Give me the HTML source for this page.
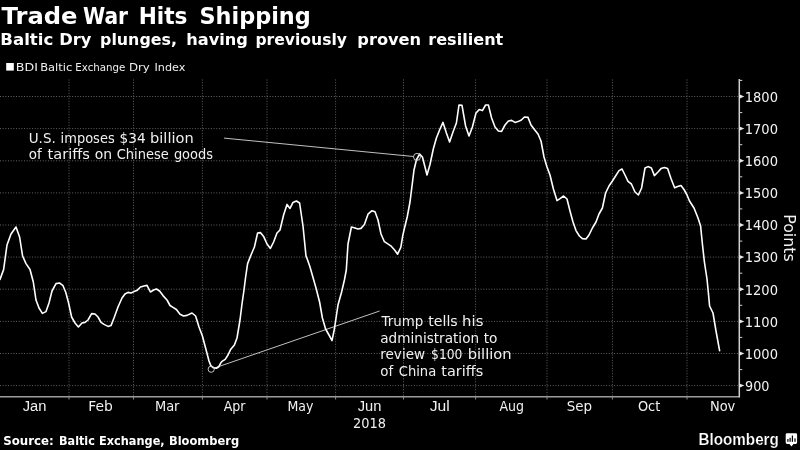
<!DOCTYPE html>
<html lang="en"><head><meta charset="utf-8"><title>Trade War Hits Shipping</title>
<style>html,body{margin:0;padding:0;background:#000;}body{width:800px;height:450px;overflow:hidden;}svg{display:block;will-change:transform;}text{white-space:pre;}</style></head><body>
<svg width="800" height="450" viewBox="0 0 800 450">
<rect width="800" height="450" fill="#000"/>
<g font-family="'DejaVu Sans','Liberation Sans',sans-serif" font-weight="bold" font-size="22.5" fill="#fff"><text x="1.6" y="23.6" textLength="75.91" lengthAdjust="spacingAndGlyphs">Trade</text><text x="82.93" y="23.6" textLength="45.11" lengthAdjust="spacingAndGlyphs">War</text><text x="138.67" y="23.6" textLength="48.84" lengthAdjust="spacingAndGlyphs">Hits</text><text x="199.51" y="23.6" textLength="111.21" lengthAdjust="spacingAndGlyphs">Shipping</text></g>
<g font-family="'DejaVu Sans','Liberation Sans',sans-serif" font-weight="bold" font-size="16.4" fill="#fff"><text transform="translate(0.28 45.4) scale(1 0.935)" textLength="53.03" lengthAdjust="spacingAndGlyphs">Baltic</text><text transform="translate(59.26 45.4) scale(1 0.935)" textLength="32.22" lengthAdjust="spacingAndGlyphs">Dry</text><text transform="translate(100.04 45.4) scale(1 0.935)" textLength="76.94" lengthAdjust="spacingAndGlyphs">plunges,</text><text transform="translate(186.27 45.4) scale(1 0.935)" textLength="61.65" lengthAdjust="spacingAndGlyphs">having</text><text transform="translate(255.41 45.4) scale(1 0.935)" textLength="91.51" lengthAdjust="spacingAndGlyphs">previously</text><text transform="translate(357.26 45.4) scale(1 0.935)" textLength="63.92" lengthAdjust="spacingAndGlyphs">proven</text><text transform="translate(428.27 45.4) scale(1 0.935)" textLength="75.01" lengthAdjust="spacingAndGlyphs">resilient</text></g>
<rect x="6.2" y="63" width="7.6" height="7.6" fill="#fff"/>
<g font-family="'DejaVu Sans','Liberation Sans',sans-serif" font-weight="normal" font-size="11.2" fill="#efefef"><text x="15.87" y="71.4" textLength="22.11" lengthAdjust="spacingAndGlyphs">BDI</text><text x="40.22" y="71.4" textLength="32.09" lengthAdjust="spacingAndGlyphs">Baltic</text><text x="75.33" y="71.4" textLength="50.05" lengthAdjust="spacingAndGlyphs">Exchange</text><text x="128.95" y="71.4" textLength="20.92" lengthAdjust="spacingAndGlyphs">Dry</text><text x="154.5" y="71.4" textLength="30.81" lengthAdjust="spacingAndGlyphs">Index</text></g>
<g stroke="#626262" stroke-width="1" stroke-dasharray="1 1.67" fill="none">
<path d="M0 96.5H739.3"/>
<path d="M0 128.6H739.3"/>
<path d="M0 160.8H739.3"/>
<path d="M0 192.9H739.3"/>
<path d="M0 225.0H739.3"/>
<path d="M0 257.1H739.3"/>
<path d="M0 289.2H739.3"/>
<path d="M0 321.4H739.3"/>
<path d="M0 353.5H739.3"/>
<path d="M0 385.6H739.3"/>
<path d="M69.0 79.5V396.6"/>
<path d="M133.5 79.5V396.6"/>
<path d="M202.4 79.5V396.6"/>
<path d="M267.0 79.5V396.6"/>
<path d="M335.6 79.5V396.6"/>
<path d="M403.5 79.5V396.6"/>
<path d="M475.6 79.5V396.6"/>
<path d="M547.0 79.5V396.6"/>
<path d="M612.4 79.5V396.6"/>
<path d="M687.0 79.5V396.6"/>
</g>
<path d="M0 396.8H740.0" stroke="#9c9c9c" stroke-width="1.5" fill="none"/>
<path d="M739.3 79.0V397.3" stroke="#cfcfcf" stroke-width="1.5" fill="none"/>
<g stroke="#8e8e8e" stroke-width="1" fill="none">
<path d="M69.0 396.6V399.5"/>
<path d="M133.5 396.6V399.5"/>
<path d="M202.4 396.6V399.5"/>
<path d="M267.0 396.6V399.5"/>
<path d="M335.6 396.6V399.5"/>
<path d="M403.5 396.6V399.5"/>
<path d="M475.6 396.6V399.5"/>
<path d="M547.0 396.6V399.5"/>
<path d="M612.4 396.6V399.5"/>
<path d="M687.0 396.6V399.5"/>
</g>
<g fill="#e8e8e8" stroke="none">
<path d="M739.3 94.3L744.3 96.5L739.3 98.7Z"/>
<path d="M739.3 126.4L744.3 128.6L739.3 130.8Z"/>
<path d="M739.3 158.6L744.3 160.8L739.3 162.9Z"/>
<path d="M739.3 190.7L744.3 192.9L739.3 195.1Z"/>
<path d="M739.3 222.8L744.3 225.0L739.3 227.2Z"/>
<path d="M739.3 254.9L744.3 257.1L739.3 259.3Z"/>
<path d="M739.3 287.1L744.3 289.2L739.3 291.4Z"/>
<path d="M739.3 319.2L744.3 321.4L739.3 323.6Z"/>
<path d="M739.3 351.3L744.3 353.5L739.3 355.7Z"/>
<path d="M739.3 383.4L744.3 385.6L739.3 387.8Z"/>
</g>
<g stroke="#cfcfcf" stroke-width="1" fill="none">
<path d="M739.3 80.4h3"/>
<path d="M739.3 112.6h3"/>
<path d="M739.3 144.7h3"/>
<path d="M739.3 176.8h3"/>
<path d="M739.3 208.9h3"/>
<path d="M739.3 241.1h3"/>
<path d="M739.3 273.2h3"/>
<path d="M739.3 305.3h3"/>
<path d="M739.3 337.4h3"/>
<path d="M739.3 369.6h3"/>
</g>
<g font-family="'DejaVu Sans Condensed','Liberation Sans',sans-serif" font-weight="normal" font-size="14.4" fill="#f2f2f2"><text x="744.69" y="101.8" textLength="33.28" lengthAdjust="spacingAndGlyphs">1800</text></g>
<g font-family="'DejaVu Sans Condensed','Liberation Sans',sans-serif" font-weight="normal" font-size="14.4" fill="#f2f2f2"><text x="744.69" y="133.9" textLength="33.28" lengthAdjust="spacingAndGlyphs">1700</text></g>
<g font-family="'DejaVu Sans Condensed','Liberation Sans',sans-serif" font-weight="normal" font-size="14.4" fill="#f2f2f2"><text x="744.69" y="166.1" textLength="33.28" lengthAdjust="spacingAndGlyphs">1600</text></g>
<g font-family="'DejaVu Sans Condensed','Liberation Sans',sans-serif" font-weight="normal" font-size="14.4" fill="#f2f2f2"><text x="744.69" y="198.2" textLength="33.28" lengthAdjust="spacingAndGlyphs">1500</text></g>
<g font-family="'DejaVu Sans Condensed','Liberation Sans',sans-serif" font-weight="normal" font-size="14.4" fill="#f2f2f2"><text x="744.69" y="230.3" textLength="33.28" lengthAdjust="spacingAndGlyphs">1400</text></g>
<g font-family="'DejaVu Sans Condensed','Liberation Sans',sans-serif" font-weight="normal" font-size="14.4" fill="#f2f2f2"><text x="744.69" y="262.4" textLength="33.28" lengthAdjust="spacingAndGlyphs">1300</text></g>
<g font-family="'DejaVu Sans Condensed','Liberation Sans',sans-serif" font-weight="normal" font-size="14.4" fill="#f2f2f2"><text x="744.69" y="294.6" textLength="33.28" lengthAdjust="spacingAndGlyphs">1200</text></g>
<g font-family="'DejaVu Sans Condensed','Liberation Sans',sans-serif" font-weight="normal" font-size="14.4" fill="#f2f2f2"><text x="744.69" y="326.7" textLength="33.28" lengthAdjust="spacingAndGlyphs">1100</text></g>
<g font-family="'DejaVu Sans Condensed','Liberation Sans',sans-serif" font-weight="normal" font-size="14.4" fill="#f2f2f2"><text x="744.69" y="358.8" textLength="33.28" lengthAdjust="spacingAndGlyphs">1000</text></g>
<g font-family="'DejaVu Sans Condensed','Liberation Sans',sans-serif" font-weight="normal" font-size="14.4" fill="#f2f2f2"><text x="745.06" y="390.9" textLength="24.45" lengthAdjust="spacingAndGlyphs">900</text></g>
<g font-family="'DejaVu Sans Condensed','Liberation Sans',sans-serif" font-weight="normal" font-size="13.7" fill="#f0f0f0"><text x="88.29" y="411.4" textLength="24.54" lengthAdjust="spacingAndGlyphs">Feb</text><text x="154.93" y="411.4" textLength="24.55" lengthAdjust="spacingAndGlyphs">Mar</text><text x="223.75" y="411.4" textLength="21.81" lengthAdjust="spacingAndGlyphs">Apr</text><text x="287.47" y="411.4" textLength="26.0" lengthAdjust="spacingAndGlyphs">May</text><text x="499.5" y="411.4" textLength="24.57" lengthAdjust="spacingAndGlyphs">Aug</text><text x="566.68" y="411.4" textLength="25.35" lengthAdjust="spacingAndGlyphs">Sep</text><text x="637.96" y="411.4" textLength="22.35" lengthAdjust="spacingAndGlyphs">Oct</text><text x="709.93" y="411.4" textLength="25.37" lengthAdjust="spacingAndGlyphs">Nov</text></g>
<g font-family="'Liberation Sans',sans-serif" font-weight="normal" font-size="14" fill="#f0f0f0"><text x="22.74" y="411.4" textLength="23.73" lengthAdjust="spacingAndGlyphs">Jan</text><text x="357.74" y="411.4" textLength="23.63" lengthAdjust="spacingAndGlyphs">Jun</text><text x="429.72" y="411.4" textLength="20.04" lengthAdjust="spacingAndGlyphs">Jul</text></g>
<g font-family="'DejaVu Sans Condensed','Liberation Sans',sans-serif" font-weight="normal" font-size="13.7" fill="#f0f0f0"><text x="352.96" y="428" textLength="32.92" lengthAdjust="spacingAndGlyphs">2018</text></g>
<text transform="translate(783.6 214.3) rotate(90)" textLength="47.4" lengthAdjust="spacingAndGlyphs" font-family="'DejaVu Sans Condensed','Liberation Sans',sans-serif" font-size="16.6" fill="#f2f2f2">Points</text>
<g stroke="#d6d6d6" stroke-width="0.9" fill="none">
<path d="M224 138.1L413.5 156.5"/>
<path d="M214 368.2L379.6 311"/>
</g>
<path d="M0 279.4L3.6 269.6L7 245L11 234L16 227L19.6 237L22.6 256L26 263.6L30 269.5L33.3 282L36 300L39 308L42.4 313.4L46 311.6L49 303L52 291L56 283.6L59.5 283L62.8 285.3L65.8 292.5L68.6 303L71.6 317L75 323L78.4 327L82 323L85 322.4L88 320L91.6 313.6L95 314L98 317L101 322.4L104 324.4L108 326.4L111 325.6L114 318L118 307L122 298L125 294L128 292.4L131 293L134 291.6L136.8 290.6L140.5 287L144 286L147 285.4L150.4 292L153.6 290L156.4 289L159.6 291L163 295.6L167 300L170 305.5L173 307.4L176.4 309.5L180 314.2L183.6 316L187 315.4L192 313L195.6 316L199 327L202.4 336L205.6 348L209 361L210.8 365.6L213.5 367.8L216.4 368.2L218.8 366.7L220.8 362.8L222 361.4L225.2 359.4L228 355L230.8 349.2L234.4 345L237 338L240 320L242 304L244 290L245.5 278L247.6 263.6L251 255L254.4 247L257.6 233L260.4 232.6L263.6 236.4L267 244L270.4 248.4L273.6 242L277 233L280 230L283.6 215L287 204.4L290 208.4L293 202.4L296.4 201L299.6 203L303 226L306 256L307.6 260L310 267L312 274L316 288L319.6 302L322.4 318L325.6 329L329 335L332 340.6L334.4 329L338 305L341.6 292L344.4 280L346.3 270L348 244L351.4 227L355 228L358 229L361 228.4L364.4 224.5L368 214.2L372 210.7L375 211.7L378 220L381 234L384.4 241.7L390.8 245.8L394.8 250.2L397.6 254.2L400.8 247.4L402.8 235.4L404.5 228L407.3 216.5L410 202L412 186L414 170L416.4 160L419.6 154L422.4 157L425 167L427 175L430 164.5L433.3 149L436.4 138L440 129L443 122.4L446.4 133L449.6 142L453 132L456.4 123L459 105L462 105.4L465.6 126L469 136L472.4 127L476 113L479.2 109.6L482.4 110.6L485.6 105L488.4 105L491.6 118L495 127L498.4 131L501.6 131.4L505 125L508.4 121L511.6 120.4L515 122.4L518 121.6L521.4 120L524.4 117L528 117.4L531 125L534.4 129.4L538 134L541 141L544 157L547 167L550 175L553.4 189L557 200.6L560 198.6L563.6 196L567 199L570 211L573 222L576 230.6L579.4 236L582.4 238.6L586 239L589 235L592.4 228L596 222L599 214L602.4 208L605.6 193L609 186L612.4 181L615.6 176L619 170.6L622 169L625 175L628 181.4L631.4 184L635 192L638.4 195L641.6 188L645 168L648 166.6L651.4 168L654.4 175.6L658 172L661 168.6L664.4 167.6L667.6 168.6L671 178.5L674.6 187.8L677.6 186.6L681 185.5L684 189.5L687 195L689.5 201L694 208L698 218L700.6 226L702.4 244L704.4 262L707 279L708.4 293L709.6 306L713 313L716 331L719.6 350.6" stroke="#fff" stroke-width="1.6" stroke-linejoin="round" stroke-linecap="round" fill="none"/>
<g stroke="#d6d6d6" stroke-width="0.9" fill="none"><circle cx="417" cy="156.9" r="3.5"/><circle cx="211.2" cy="369.2" r="3.1"/></g>
<g font-family="'DejaVu Sans','Liberation Sans',sans-serif" font-weight="normal" font-size="13.65" fill="#f0f0f0"><text x="28.77" y="142.5" textLength="26.94" lengthAdjust="spacingAndGlyphs">U.S.</text><text x="60.61" y="142.5" textLength="54.05" lengthAdjust="spacingAndGlyphs">imposes</text><text x="119.6" y="142.5" textLength="26.1" lengthAdjust="spacingAndGlyphs">$34</text><text x="150.06" y="142.5" textLength="43.67" lengthAdjust="spacingAndGlyphs">billion</text></g>
<g font-family="'DejaVu Sans','Liberation Sans',sans-serif" font-weight="normal" font-size="13.65" fill="#f0f0f0"><text x="28.86" y="159.3" textLength="13.0" lengthAdjust="spacingAndGlyphs">of</text><text x="47.53" y="159.3" textLength="42.44" lengthAdjust="spacingAndGlyphs">tariffs</text><text x="94.73" y="159.3" textLength="17.39" lengthAdjust="spacingAndGlyphs">on</text><text x="116.68" y="159.3" textLength="52.03" lengthAdjust="spacingAndGlyphs">Chinese</text><text x="173.89" y="159.3" textLength="39.11" lengthAdjust="spacingAndGlyphs">goods</text></g>
<g font-family="'DejaVu Sans','Liberation Sans',sans-serif" font-weight="normal" font-size="13.65" fill="#f0f0f0"><text x="381.5" y="326" textLength="41.77" lengthAdjust="spacingAndGlyphs">Trump</text><text x="428.24" y="326" textLength="29.47" lengthAdjust="spacingAndGlyphs">tells</text><text x="462.14" y="326" textLength="21.25" lengthAdjust="spacingAndGlyphs">his</text></g>
<g font-family="'DejaVu Sans','Liberation Sans',sans-serif" font-weight="normal" font-size="13.65" fill="#f0f0f0"><text x="380.25" y="342.5" textLength="98.84" lengthAdjust="spacingAndGlyphs">administration</text><text x="483.75" y="342.5" textLength="13.76" lengthAdjust="spacingAndGlyphs">to</text></g>
<g font-family="'DejaVu Sans','Liberation Sans',sans-serif" font-weight="normal" font-size="13.65" fill="#f0f0f0"><text x="380.26" y="359" textLength="44.86" lengthAdjust="spacingAndGlyphs">review</text><text x="431.1" y="359" textLength="31.35" lengthAdjust="spacingAndGlyphs">$100</text><text x="467.65" y="359" textLength="43.99" lengthAdjust="spacingAndGlyphs">billion</text></g>
<g font-family="'DejaVu Sans','Liberation Sans',sans-serif" font-weight="normal" font-size="13.65" fill="#f0f0f0"><text x="380.26" y="375.8" textLength="12.9" lengthAdjust="spacingAndGlyphs">of</text><text x="398.78" y="375.8" textLength="37.39" lengthAdjust="spacingAndGlyphs">China</text><text x="441.24" y="375.8" textLength="41.93" lengthAdjust="spacingAndGlyphs">tariffs</text></g>
<g font-family="'DejaVu Sans','Liberation Sans',sans-serif" font-weight="bold" font-size="11.6" fill="#fff"><text x="3.24" y="445.3" textLength="50.45" lengthAdjust="spacingAndGlyphs">Source:</text><text x="59.03" y="445.3" textLength="35.82" lengthAdjust="spacingAndGlyphs">Baltic</text><text x="99.02" y="445.3" textLength="65.62" lengthAdjust="spacingAndGlyphs">Exchange,</text><text x="168.91" y="445.3" textLength="70.19" lengthAdjust="spacingAndGlyphs">Bloomberg</text></g>
<g stroke="#000" stroke-width="0.2" font-family="'Liberation Sans',sans-serif" font-weight="bold" font-size="15.8" fill="#fff"><text x="698.44" y="445.0" textLength="80.41" lengthAdjust="spacingAndGlyphs">Bloomberg</text></g>
<path d="M787.1 433.2h8.6a1.4 1.4 0 0 1 1.4 1.4v7.9a1.4 1.4 0 0 1 -1.4 1.4h-2.2l-2 2.7l-2 -2.7h-2.4a1.4 1.4 0 0 1 -1.4 -1.4v-7.9a1.4 1.4 0 0 1 1.4 -1.4z" fill="#fff"/>
<g fill="#000"><rect x="787.3" y="439" width="1.2" height="2.8"/><rect x="789.5" y="437.8" width="1.2" height="4"/><rect x="791.8" y="435.5" width="1.2" height="6.3"/><rect x="794.4" y="438.4" width="1.2" height="3.4"/></g>
</svg></body></html>
